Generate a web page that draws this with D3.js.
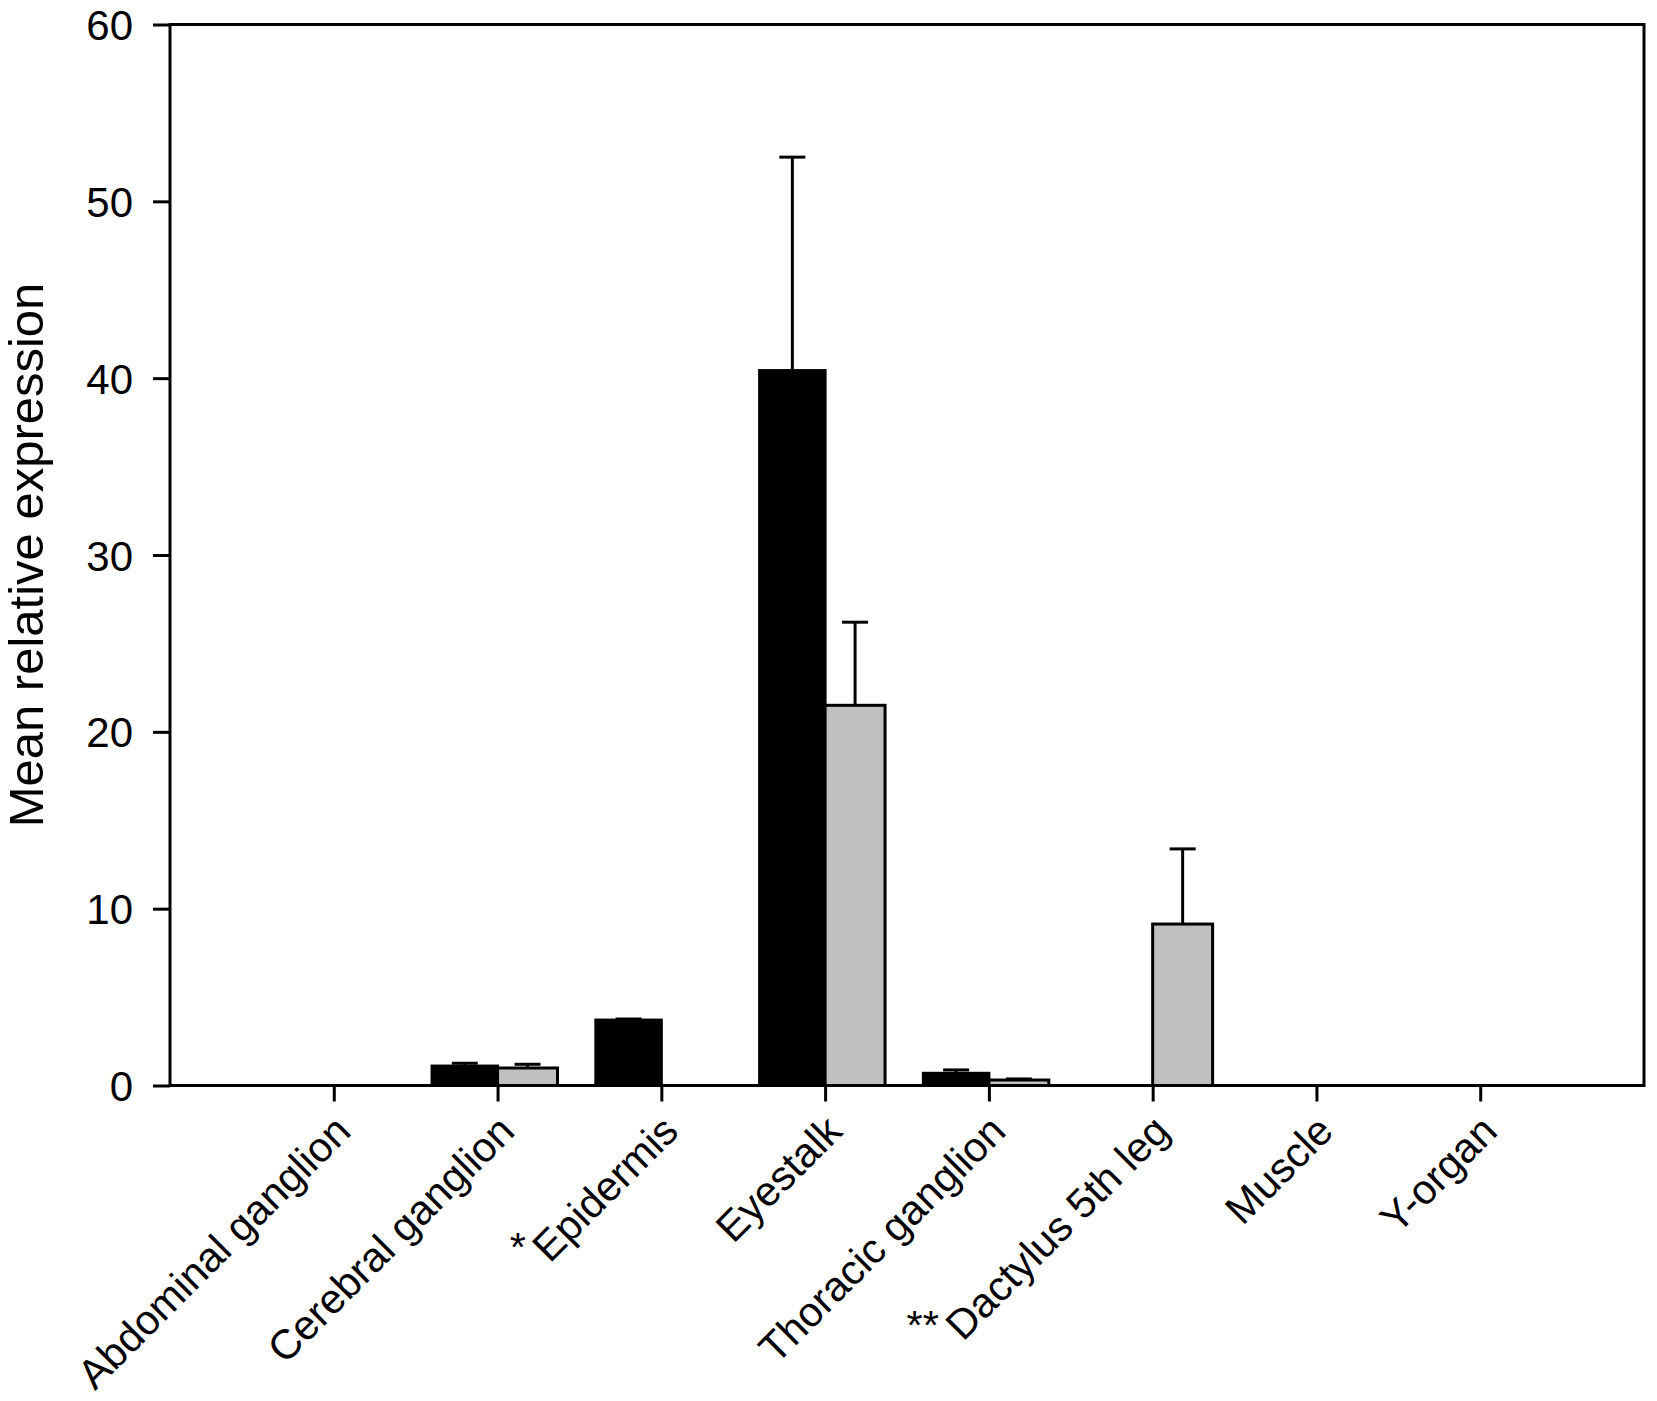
<!DOCTYPE html>
<html>
<head>
<meta charset="utf-8">
<script src="https://cdn.jsdelivr.net/npm/d3@7"></script>
<style>
  body { margin: 0; background: #fff; }
  text { font-family: "Liberation Sans", Arial, sans-serif; fill: #000; }
</style>
</head>
<body>
<div id="chart"></div>
<script>
// tissues along the x axis, with significance marks shown before the name
let categories = ['Abdominal ganglion', 'Cerebral ganglion', 'Epidermis', 'Eyestalk',
    'Thoracic ganglion', 'Dactylus 5th leg', 'Muscle', 'Y-organ'];
let marks = ['', '', '*', '', '', '**', '', ''];

// black series (first group) and grey series (second group), mean and upper error
let blackMean = [0, 1.10, 3.70, 40.43, 0.69, 0, 0, 0];
let blackErr = [0, 0.16, 0.06, 12.07, 0.19, 0, 0, 0];
let greyMean = [0, 0.99, 0, 21.5, 0.31, 9.13, 0, 0];
let greyErr = [0, 0.21, 0, 4.7, 0.06, 4.25, 0, 0];

let yTicks = [0, 10, 20, 30, 40, 50, 60];

let W = 1657, H = 1401;
let margin = {top: 24.5, right: 13, bottom: 315.5, left: 170};
let width = W - margin.left - margin.right;
let height = H - margin.top - margin.bottom;

let svg = d3.select('#chart')
    .append('svg')
    .attr('width', W)
    .attr('height', H);

let g = svg.append('g')
    .attr('transform', 'translate(' + margin.left + ', ' + margin.top + ')');

let x = d3.scalePoint()
    .domain(categories)
    .range([0, width])
    .padding(1);
let step = x.step();

let y = d3.scaleLinear()
    .domain([0, 60])
    .range([height, 0]);

let blackW = step * 0.4;
let greyW = step * 0.366;

let rows = categories.map((c, i) => ({
    cat: c, mark: marks[i],
    b: blackMean[i], be: blackErr[i],
    gr: greyMean[i], ge: greyErr[i]
}));

// bars
g.selectAll('.bar-black')
    .data(rows.filter(d => d.b > 0))
    .enter().append('rect')
    .attr('class', 'bar-black')
    .attr('x', d => x(d.cat) - blackW)
    .attr('y', d => y(d.b))
    .attr('width', blackW)
    .attr('height', d => y(0) - y(d.b))
    .style('fill', '#000')
    .style('stroke', '#000')
    .style('stroke-width', 3);

g.selectAll('.bar-grey')
    .data(rows.filter(d => d.gr > 0))
    .enter().append('rect')
    .attr('class', 'bar-grey')
    .attr('x', d => x(d.cat))
    .attr('y', d => y(d.gr))
    .attr('width', greyW)
    .attr('height', d => y(0) - y(d.gr))
    .style('fill', '#c0c0c0')
    .style('stroke', '#000')
    .style('stroke-width', 3);

// upper error bars
let errs = [];
rows.forEach(d => {
    if (d.be > 0) errs.push({cx: x(d.cat) - blackW / 2, v: d.b, e: d.be});
    if (d.ge > 0) errs.push({cx: x(d.cat) + greyW / 2, v: d.gr, e: d.ge});
});
let capHalf = 13;
let eg = g.selectAll('.err')
    .data(errs)
    .enter().append('g')
    .attr('class', 'err')
    .style('stroke', '#000')
    .style('stroke-width', 3);
eg.append('line')
    .attr('x1', d => d.cx).attr('x2', d => d.cx)
    .attr('y1', d => y(d.v)).attr('y2', d => y(d.v + d.e));
eg.append('line')
    .attr('x1', d => d.cx - capHalf).attr('x2', d => d.cx + capHalf)
    .attr('y1', d => y(d.v + d.e)).attr('y2', d => y(d.v + d.e));

// frame
g.append('rect')
    .attr('x', 0).attr('y', 0)
    .attr('width', width).attr('height', height)
    .style('fill', 'none')
    .style('stroke', '#000')
    .style('stroke-width', 3);

// y axis
let yAxis = d3.axisLeft(y)
    .tickValues(yTicks)
    .tickSize(17)
    .tickPadding(20)
    .tickFormat(d3.format('d'));
let ya = g.append('g').call(yAxis);
ya.select('.domain').remove();
ya.selectAll('line').style('stroke', '#000').style('stroke-width', 3);
ya.selectAll('text')
    .style('font-size', '42px')
    .attr('dy', '0.36em');

// x axis
let xAxis = d3.axisBottom(x)
    .tickSize(16)
    .tickFormat('');
let xa = g.append('g')
    .attr('transform', `translate(0, ${height})`)
    .call(xAxis);
xa.select('.domain').remove();
xa.selectAll('line').style('stroke', '#000').style('stroke-width', 3);

// rotated category labels
let ang = Math.PI / 4;
rows.forEach(d => {
    let ax = x(d.cat) + 19, ay = height + 48;
    let t = g.append('text')
        .attr('transform', `translate(${ax}, ${ay}) rotate(-45)`)
        .attr('text-anchor', 'end')
        .style('font-size', '41.5px')
        .text(d.cat);
    if (d.mark) {
        let len = t.node().getComputedTextLength();
        let sx = ax - len * Math.cos(ang);
        let sy = ay + len * Math.sin(ang);
        g.append('text')
            .attr('x', sx - 24)
            .attr('y', sy - 3)
            .attr('text-anchor', 'end')
            .style('font-size', '41.5px')
            .text(d.mark);
    }
});

// y title
svg.append('text')
    .attr('transform', `translate(43, ${margin.top + height / 2}) rotate(-90)`)
    .attr('text-anchor', 'middle')
    .style('font-size', '49px')
    .text('Mean relative expression');
</script>
</body>
</html>
